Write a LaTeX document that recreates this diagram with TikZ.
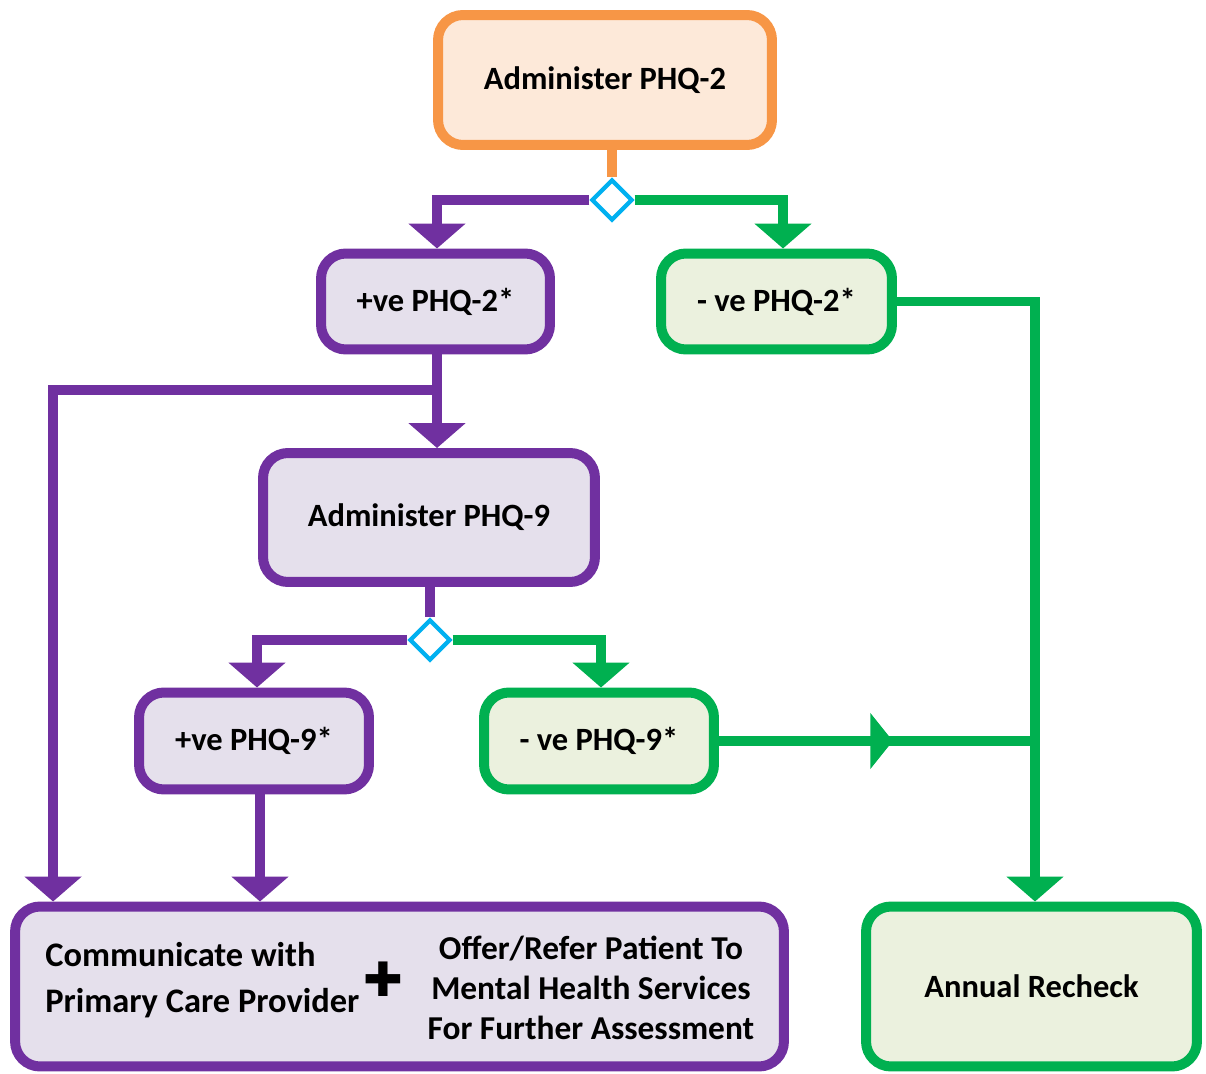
\documentclass[tikz,border=0pt]{standalone}
\usepackage{fontspec}
\setmainfont{Carlito}
\newfontfamily\symfont{DejaVu Sans}
\usetikzlibrary{arrows.meta,shapes.geometric,decorations.markings}
\definecolor{phqorange}{HTML}{F79646}
\definecolor{phqpeach}{HTML}{FDE9D9}
\definecolor{phqpurple}{HTML}{7030A0}
\definecolor{phqlav}{HTML}{E5E0EC}
\definecolor{phqgreen}{HTML}{00B050}
\definecolor{phqmint}{HTML}{EBF1DE}
\definecolor{phqblue}{HTML}{00B0F0}
\tikzset{
  box/.style={draw, rounded corners=0.5cm, line width=0.2cm, inner sep=0pt,
    align=center, font=\bfseries\fontsize{18.5}{22}\selectfont},
  obox/.style={box, draw=phqorange, fill=phqpeach},
  pbox/.style={box, draw=phqpurple, fill=phqlav},
  gbox/.style={box, draw=phqgreen, fill=phqmint},
  choice/.style={diamond, draw=phqblue, fill=white, line width=2.4pt,
    minimum size=0.82cm, inner sep=0pt},
  oline/.style={draw=phqorange, line width=0.2cm},
  pline/.style={draw=phqpurple, line width=0.2cm},
  gline/.style={draw=phqgreen, line width=0.2cm},
  tip/.style={-{Triangle[width=1.12cm,length=0.5cm]}},
}
\begin{document}
\begin{tikzpicture}[x=0.02cm,y=-0.02cm]
  \useasboundingbox (0,0) rectangle (1206,1074);
  % boxes
  \node[obox, minimum width=6.68cm, minimum height=2.6cm] (adm2) at (605,80) {Administer PHQ-2};
  \node[pbox, minimum width=4.58cm, minimum height=1.92cm] (pos2) at (435.5,301.5) {+ve PHQ-2*};
  \node[gbox, minimum width=4.62cm, minimum height=1.92cm] (neg2) at (776.5,301.5) {- ve PHQ-2*};
  \node[pbox, minimum width=6.64cm, minimum height=2.58cm] (adm9) at (429,517.5) {Administer PHQ-9};
  \node[pbox, minimum width=4.6cm, minimum height=1.94cm] (pos9) at (254,741) {+ve PHQ-9*};
  \node[gbox, minimum width=4.6cm, minimum height=1.94cm] (neg9) at (599,741) {- ve PHQ-9*};
  \node[pbox, minimum width=15.38cm, minimum height=3.2cm] (comm) at (399.5,986.5) {};
  \node[gbox, minimum width=6.62cm, minimum height=3.2cm] (recheck) at (1031.5,986.5) {Annual Recheck};
  % text in the bottom box
  \node[anchor=west, align=left, inner sep=0pt,
    font=\bfseries\fontsize{19.6}{26}\selectfont] (commtxt) at (45,980)
    {Communicate with\\Primary Care Provider};
  \node[inner sep=0pt, font=\symfont\fontsize{27}{27}\selectfont] (plus) at (383,979) {✚};
  \node[align=center, inner sep=0pt,
    font=\bfseries\fontsize{19}{22.8}\selectfont] (refer) at (591,988)
    {Offer/Refer Patient To\\Mental Health Services\\For Further Assessment};
  % decision points
  \node[choice] (d2) at (612,200) {};
  \node[choice] (d9) at (430,640) {};
  \coordinate (split) at (437,390);
  \coordinate (join) at (1035,741);
  % connectors
  \draw[oline] (d2.north |- adm2.south) -- (d2.north);
  \draw[pline, tip] (d2.west) -| ([xshift=0.03cm]pos2.north);
  \draw[gline, tip] (d2.east) -| ([xshift=0.13cm]neg2.north);
  \draw[pline, tip] (split |- pos2.south) -- (split |- adm9.north);
  \draw[pline, tip] (split) -| ([xshift=0.86cm]comm.north west);
  \draw[pline] (d9.north |- adm9.south) -- (d9.north);
  \draw[pline, tip] (d9.west) -| ([xshift=0.06cm]pos9.north);
  \draw[gline, tip] (d9.east) -| ([xshift=0.04cm]neg9.north);
  \draw[pline, tip] ([xshift=0.12cm]pos9.south) -- ([xshift=0.12cm]pos9.south |- comm.north);
  \draw[gline, tip] (neg2.east) -| ([xshift=0.07cm]recheck.north);
  \draw[gline, postaction={decorate}, decoration={markings,
    mark=at position 0.55 with {\arrow{Triangle[width=1.1cm,length=0.45cm]}}}]
    (neg9.east) -- (join);
\end{tikzpicture}
\end{document}
